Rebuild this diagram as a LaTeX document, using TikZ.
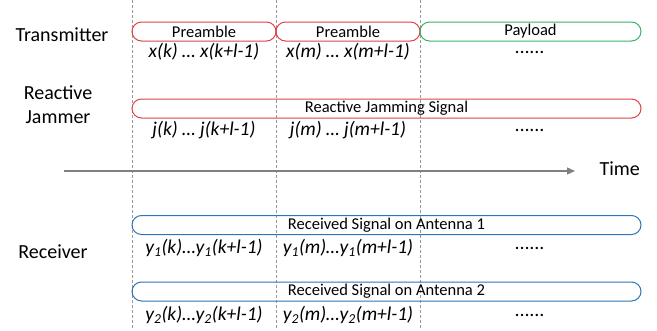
\documentclass[tikz,border=0pt]{standalone}
\usepackage{fontspec}
\setmainfont{Carlito}
\usetikzlibrary{arrows.meta}
\definecolor{cred}{RGB}{226,64,72}
\definecolor{cgreen}{RGB}{60,178,100}
\definecolor{cblue}{RGB}{46,117,182}
\definecolor{cgray}{RGB}{128,128,128}
\begin{document}
\begin{tikzpicture}[x=1pt,y=-1pt,
  sig/.style={draw,line width=1pt,rounded corners=9.5pt,minimum height=19pt,inner sep=0pt,font=\fontsize{16.5}{18}\selectfont},
  lab/.style={font=\fontsize{20}{24}\selectfont,align=center},
  seq/.style={font=\fontsize{19.5}{22}\selectfont\itshape},
  guide/.style={draw=cgray!80,dash pattern=on 3pt off 2pt,line width=0.6pt}]
\useasboundingbox (0,0) rectangle (657,330);
% guides
\foreach \n/\x in {a/132,b/276,c/420}{
  \coordinate (\n top) at (\x,0);
  \coordinate (\n bot) at (\x,330);
  \draw[guide] (\n top) -- (\n bot);
}
% row labels
\node[lab] (tx) at (62,35) {Transmitter};
\node[lab] (jam) at (58,105) {Reactive\\Jammer};
\node[lab] (rx) at (53,252) {Receiver};
% transmitter
\node[sig,draw=cred,minimum width=144pt] (pre1) at (204,31.5) {Preamble};
\node[sig,draw=cred,minimum width=144pt] (pre2) at (348,31.5) {Preamble};
\node[sig,draw=cgreen,minimum width=221pt] (pay) at (530.5,31.5) {Payload};
\node[seq] (x1) at (204,52) {x(k) … x(k+l-1)};
\node[seq] (x2) at (348,52) {x(m) … x(m+l-1)};
\node[seq] (x3) at (530,52) {......};
% jammer
\node[sig,draw=cred,minimum width=509pt] (js) at (386.5,108.5) {Reactive Jamming Signal};
\node[seq] (j1) at (204,130) {j(k) … j(k+l-1)};
\node[seq] (j2) at (348,130) {j(m) … j(m+l-1)};
\node[seq] (j3) at (530,130) {......};
% time axis
\coordinate (t0) at (64,171);
\coordinate (t1) at (575,171);
\draw[cgray,line width=1.3pt,-{Triangle[length=8pt,width=7pt]}] (t0) -- (t1);
\node[lab,anchor=west] (time) at (596,169) {Time};
% receiver
\node[sig,draw=cblue,minimum width=509pt] (r1) at (386.5,225) {Received Signal on Antenna 1};
\node[seq] (y11) at (204,248) {y\textsubscript{1}(k)…y\textsubscript{1}(k+l-1)};
\node[seq] (y12) at (348,248) {y\textsubscript{1}(m)…y\textsubscript{1}(m+l-1)};
\node[seq] (y13) at (530,248) {......};
\node[sig,draw=cblue,minimum width=509pt] (r2) at (386.5,291.5) {Received Signal on Antenna 2};
\node[seq] (y21) at (204,315) {y\textsubscript{2}(k)…y\textsubscript{2}(k+l-1)};
\node[seq] (y22) at (348,315) {y\textsubscript{2}(m)…y\textsubscript{2}(m+l-1)};
\node[seq] (y23) at (530,315) {......};
\end{tikzpicture}
\end{document}
